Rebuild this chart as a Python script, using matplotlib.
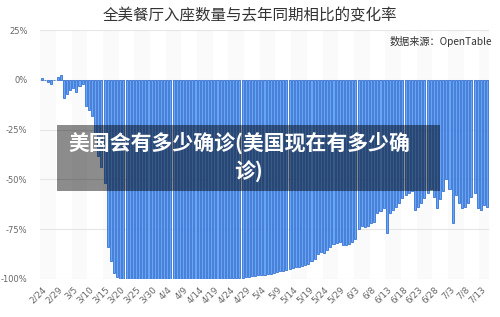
import numpy as np
import pandas as pd
import matplotlib
matplotlib.use("Agg")
import matplotlib.pyplot as plt
from matplotlib.patches import Rectangle

plt.rcParams['font.family'] = ['Noto Sans CJK SC', 'DejaVu Sans']

#--------------------------------------------------------------#
# data: daily change vs same day last year (%)
start_date = '2020-02-24'
change_pct = [
    1, 0, -1, -2, 0, 1.5, 2.5, -9, -7, -5, -4, -6, -3, -2, -13, -15, -18, -27,
    -38, -44, -52, -84, -91, -97, -99,
    -100, -100, -100, -100, -100, -100, -100, -100, -100, -100, -100, -100,
    -100, -100, -100, -100, -100, -100, -100, -100, -100, -100, -100, -100,
    -100, -100, -100, -100, -100, -100, -100, -100, -100, -100, -100,
    -99.6, -99.5, -99.5, -99.4, -99.3, -99.2, -99.0,
    -98.6, -98.4, -98.2, -98.0, -97.8, -97.6,
    -97.3, -97.0, -96.6, -96.2,
    -95.8, -95.4, -95.0, -94.6, -94.2,
    -93.8, -93.4, -93.0, -92.4,
    -91, -90, -87.5, -86.5, -87, -85.5,
    -84, -82.5, -82, -81.5, -83, -83, -82.5, -81.5,
    -80, -75, -73.5, -74, -73.5, -72, -71.5, -67, -66, -64.5, -77, -67, -65.5,
    -64, -62, -59.5, -58, -57, -56, -65.5, -64, -62, -59.5, -57, -55, -59,
    -64.5, -60, -56, -50, -55, -72, -58, -62, -64.5, -64, -62, -59, -57,
    -64.5, -65.5, -63, -64,
]
tick_labels = ['2/24', '2/29', '3/5', '3/10', '3/15', '3/20', '3/25', '3/30',
               '4/4', '4/9', '4/14', '4/19', '4/24', '4/29', '5/4', '5/9',
               '5/14', '5/19', '5/24', '5/29', '6/3', '6/8', '6/13', '6/18',
               '6/23', '6/28', '7/3', '7/8', '7/13']
y_ticks = [25, 0, -25, -50, -75, -100]

title = '全美餐厅入座数量与去年同期相比的变化率'
source = '数据来源：OpenTable'
overlay_lines = ['美国会有多少确诊(美国现在有多少确', '诊)']

#--------------------------------------------------------------#
dates = pd.date_range(start_date, periods=len(change_pct))
labels = [f'{d.month}/{d.day}' for d in dates]
x = np.arange(len(change_pct))
tick_pos = [labels.index(t) for t in tick_labels]

fig = plt.figure(figsize=(5, 3.17), dpi=100)
ax = fig.add_axes([0.080, 0.120, 0.898, 0.785])

# faint alternating background bands between date ticks
for i in range(0, len(tick_pos), 2):
    ax.axvspan(tick_pos[i] - 0.5, tick_pos[i] + 4.5, color='#fafafa', zorder=0, lw=0)

for v in y_ticks:
    ax.axhline(v, color='#e6e6e6', lw=0.8, zorder=1)

ax.bar(x, change_pct, width=0.66, color='#66a6f5', edgecolor='#2b68cf',
       linewidth=0.55, zorder=2)

ax.set_xlim(-0.6, len(change_pct) - 0.4)
ax.set_ylim(-100, 25)
ax.set_yticks(y_ticks)
ax.set_yticklabels([f'{v}%' for v in y_ticks], fontsize=6, color='#666666',
                   family=['DejaVu Sans'])
ax.set_xticks(tick_pos)
ax.set_xticklabels(tick_labels, rotation=45, ha='right', va='top',
                   rotation_mode='anchor', fontsize=6.3, color='#666666',
                   family=['DejaVu Sans'])
ax.tick_params(axis='y', length=0, pad=9)
ax.tick_params(axis='x', length=0, pad=4)
for s in ax.spines.values():
    s.set_visible(False)

fig.text(0.5, 0.950, title, ha='center', va='center', fontsize=11.2,
         color='#333333')
fig.text(0.984, 0.868, source, ha='right', va='center', fontsize=7.3,
         color='#333333')

# dark caption box laid over the chart
fig.patches.append(Rectangle((0.114, 0.3975), 0.766, 0.208,
                             transform=fig.transFigure, facecolor='black',
                             alpha=0.45, lw=0, zorder=5))
fig.text(0.478, 0.549, overlay_lines[0], ha='center', va='center',
         fontsize=15, color='white', fontweight='bold', zorder=6)
fig.text(0.497, 0.457, overlay_lines[1], ha='center', va='center',
         fontsize=15, color='white', fontweight='bold', zorder=6)

fig.savefig('out.png', dpi=100)
